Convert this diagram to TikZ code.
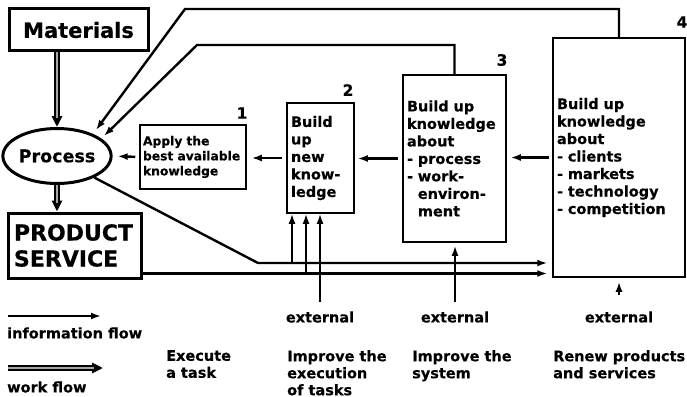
\documentclass[tikz,border=0pt]{standalone}
\usepackage{fontspec}
\setmainfont{DejaVu Sans}[BoldFeatures={FakeBold=0.4}]
\usetikzlibrary{arrows.meta,shapes.geometric}
\begin{document}
\begin{tikzpicture}[x=1pt,y=-1pt,
  every node/.style={inner sep=0pt},
  box/.style={draw, line width=1.5pt, align=left, inner xsep=4pt, inner ysep=0pt,
    font=\fontsize{14.5}{17.5}\selectfont\bfseries},
  bigbox/.style={draw, line width=3pt},
  info/.style={line width=2.4pt, -{Latex[length=10pt,width=7pt]}},
  wf/.style={line width=5.5pt, -{Triangle[length=11pt,width=10pt]},
    postaction={draw=gray!70, line width=1.4pt, -, shorten >=9pt}},
  txt/.style={font=\fontsize{14.5}{17}\selectfont\bfseries, align=left},
  num/.style={font=\fontsize{15.5}{17}\selectfont\bfseries},
]
\useasboundingbox (0,0) rectangle (687,396);

% work side
\node[bigbox, minimum width=139pt, minimum height=42pt,
  font=\fontsize{21}{24}\selectfont\bfseries] (mat) at (78.5,30) {Materials};
\node[draw, ellipse, line width=3pt, minimum width=95pt, minimum height=55pt,
  font=\fontsize{17.5}{20}\selectfont\bfseries] (proc) at (57,156) {Process};
\node[bigbox, minimum height=65pt, align=left, text width=121pt, inner xsep=6pt,
  font=\fontsize{22}{26}\selectfont\bfseries] (prod) at (74.5,245.5) {PRODUCT\\SERVICE};

% knowledge boxes
\node[box, text width=100pt, inner xsep=3pt, minimum height=64pt,
  font=\fontsize{12.3}{15}\selectfont\bfseries] (b1) at (193,157)
  {Apply the\\best available\\knowledge};
\node[box, text width=59pt, minimum height=110pt] (b2) at (320.5,158)
  {Build\\up\\new\\know-\\ledge};
\node[box, text width=95pt, minimum height=167pt] (b3) at (454.5,158.5)
  {Build up\\knowledge\\about\\- process\\- work-\\\phantom{- }environ-\\\phantom{- }ment};
\node[box, text width=124pt, minimum height=239pt] (b4) at (619,157.5)
  {Build up\\knowledge\\about\\- clients\\- markets\\- technology\\- competition};

\node[num] (n1) at (242,113) {1};
\node[num] (n2) at (348,90) {2};
\node[num] (n3) at (502,60) {3};
\node[num] (n4) at (682,22) {4};

% work flow
\draw[wf] (proc.north |- mat.south) -- (proc.north);
\draw[wf] (proc.south) -- (proc.south |- prod.north);

% information flow between the boxes
\draw[info, shorten <=4pt, shorten >=5pt] (b1.west) -- (proc.east);
\draw[info, shorten <=4pt, shorten >=5pt] (b2.west) -- (b2.west -| b1.east);
\draw[info, shorten <=4pt, shorten >=3pt] (b3.west) -- (b3.west -| b2.east);
\draw[info, shorten <=3pt, shorten >=4pt] (b4.west) -- (b4.west -| b3.east);

% feedback loops to the process
\coordinate (c3) at (197,45);
\coordinate (t3) at (104,136);
\draw[info] (b3.north) |- (c3) -- (t3);
\coordinate (c4) at (185,9);
\coordinate (t4) at (96,130);
\draw[info] (b4.north) |- (c4) -- (t4);

% results fed forward
\coordinate (k1) at (258,263);
\draw[info, shorten >=5pt] (proc.-30) -- (k1) -- (k1 -| b4.west);
\coordinate (q1) at ([yshift=6pt]prod.south east);
\draw[info, shorten >=5pt] (q1) -- (q1 -| b4.west);

\coordinate (v1) at (292,263);
\coordinate (v2) at (306,273);
\draw[info] (v1) -- (v1 |- b2.south);
\draw[info] (v2) -- (v2 |- b2.south);

% external sources
\node[txt] (e2) at (320,317) {external};
\node[txt] (e3) at (455,317) {external};
\node[txt] (e4) at (619,317) {external};
\coordinate (s2) at (320,302);
\coordinate (s3) at (455,302);
\coordinate (s4) at (619,295);
\draw[info] (s2) -- (s2 |- b2.south);
\draw[info, shorten >=3pt] (s3) -- (s3 |- b3.south);
\draw[info, shorten >=4pt] (s4) -- (s4 |- b4.south);

% legend
\coordinate (l1) at (8,316);
\coordinate (l2) at (101,316);
\draw[info] (l1) -- (l2);
\node[txt, anchor=west] (lt1) at (7,333) {information flow};
\coordinate (w1) at (8,368);
\coordinate (w2) at (103,368);
\draw[wf] (w1) -- (w2);
\node[txt, anchor=west] (lt2) at (7,387) {work flow};

% levels
\node[txt, anchor=north west] (lv1) at (166,350) {Execute\\a task};
\node[txt, anchor=north west] (lv2) at (287,350) {Improve the\\execution\\of tasks};
\node[txt, anchor=north west] (lv3) at (412,350) {Improve the\\system};
\node[txt, anchor=north west] (lv4) at (553,350) {Renew products\\and services};
\end{tikzpicture}
\end{document}
